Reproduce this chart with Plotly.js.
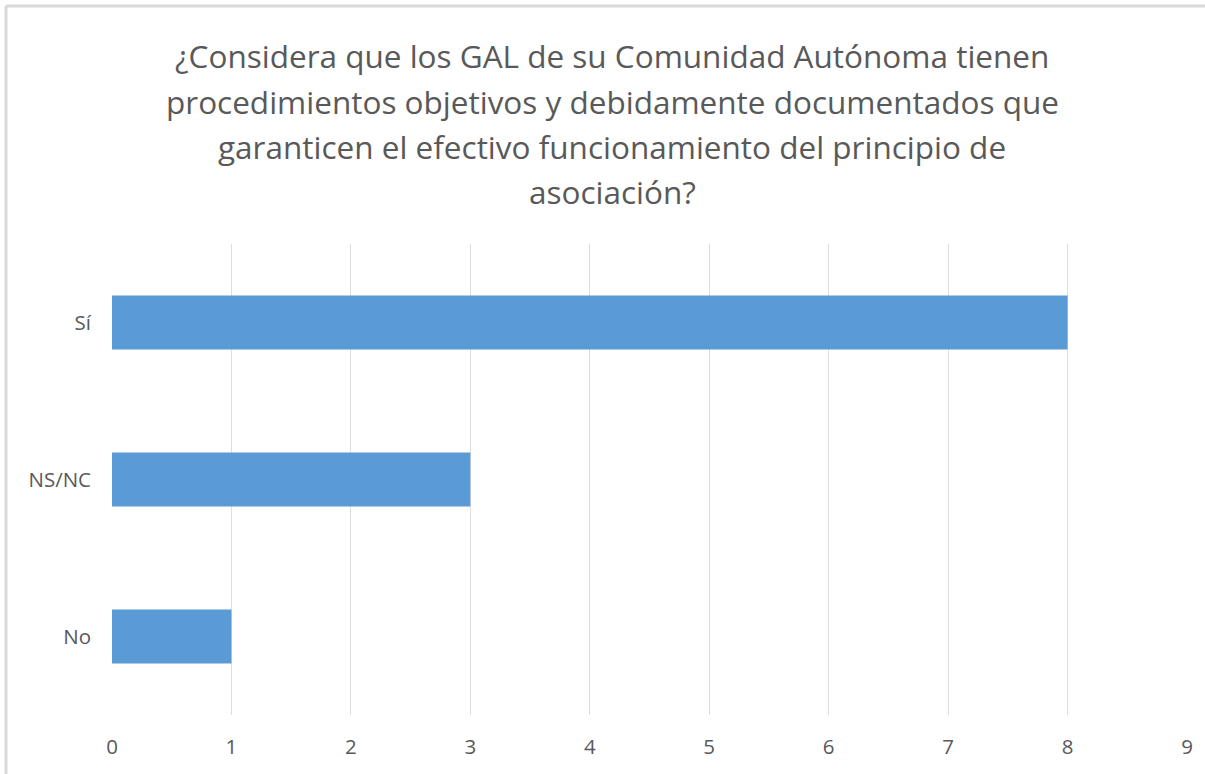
<!DOCTYPE html>
<html>
<head>
<meta charset="utf-8">
<script src="https://cdn.plot.ly/plotly-3.0.1.min.js"></script>
<style>
  body { margin: 0; background: #fff; }
  #chart { width: 1205px; height: 774px; }
</style>
</head>
<body>
<div id="chart"></div>
<script>
// answers, bottom to top as drawn
let categories = ["No", "NS/NC", "Sí"];
let counts = [1, 3, 8];
let xTicks = [0, 1, 2, 3, 4, 5, 6, 7, 8, 9];

let titleLines = [
    "¿Considera que los GAL de su Comunidad Autónoma tienen",
    "procedimientos objetivos y debidamente documentados que",
    "garanticen el efectivo funcionamiento del principio de",
    "asociación?"
];

let grey = "#595959";
let fontName = "'Open Sans', 'Noto Sans', sans-serif";

// plot area in pixels, used to place title lines and frame in paper units
let plotL = 112, plotW = 1075, plotTop = 244, plotH = 471;
function px2x(p) { return (p - plotL) / plotW; }
function px2y(p) { return (plotTop + plotH - p) / plotH; }

// title drawn line by line to get the wider line spacing of the original
let titleY = [55, 101, 146, 191];
let annotations = titleLines.map(function (line, i) {
    return {
        text: line,
        xref: "paper", yref: "paper",
        x: px2x(612), y: px2y(titleY[i]),
        xanchor: "center", yanchor: "middle",
        showarrow: false,
        font: { family: fontName, size: 31.5, color: grey }
    };
});

let layout = {
    width: 1205,
    height: 774,
    margin: { l: 112, r: 18, t: 244, b: 59 },
    paper_bgcolor: "#ffffff",
    plot_bgcolor: "#ffffff",
    showlegend: false,
    bargap: 0.655,
    annotations: annotations,
    xaxis: {
        range: [0, 9],
        tickvals: xTicks,
        ticktext: xTicks.map(String),
        showgrid: true,
        gridcolor: "#dedede",
        gridwidth: 1,
        zeroline: false,
        showline: false,
        ticks: "",
        ticklabelstandoff: 17,
        tickfont: { family: fontName, size: 20.5, color: grey },
        fixedrange: true
    },
    yaxis: {
        type: "category",
        categoryorder: "array",
        categoryarray: categories,
        showgrid: false,
        zeroline: false,
        showline: false,
        ticks: "",
        ticklabelstandoff: 20,
        tickfont: { family: fontName, size: 20.5, color: grey },
        fixedrange: true
    },
    shapes: [
        // frame of the chart area (left and top edges visible)
        { type: "line", xref: "paper", yref: "paper",
          x0: px2x(6), x1: px2x(6), y0: px2y(800), y1: px2y(6),
          line: { color: "#d9d9d9", width: 3 } },
        { type: "line", xref: "paper", yref: "paper",
          x0: px2x(6), x1: px2x(1220), y0: px2y(6), y1: px2y(6),
          line: { color: "#d9d9d9", width: 3 } }
    ]
};

Plotly.newPlot("chart", [{
    type: "bar",
    orientation: "h",
    x: counts,
    y: categories,
    marker: { color: "#5b9bd5" },
    hoverinfo: "x+y"
}], layout, { displayModeBar: false, staticPlot: true });
</script>
</body>
</html>
